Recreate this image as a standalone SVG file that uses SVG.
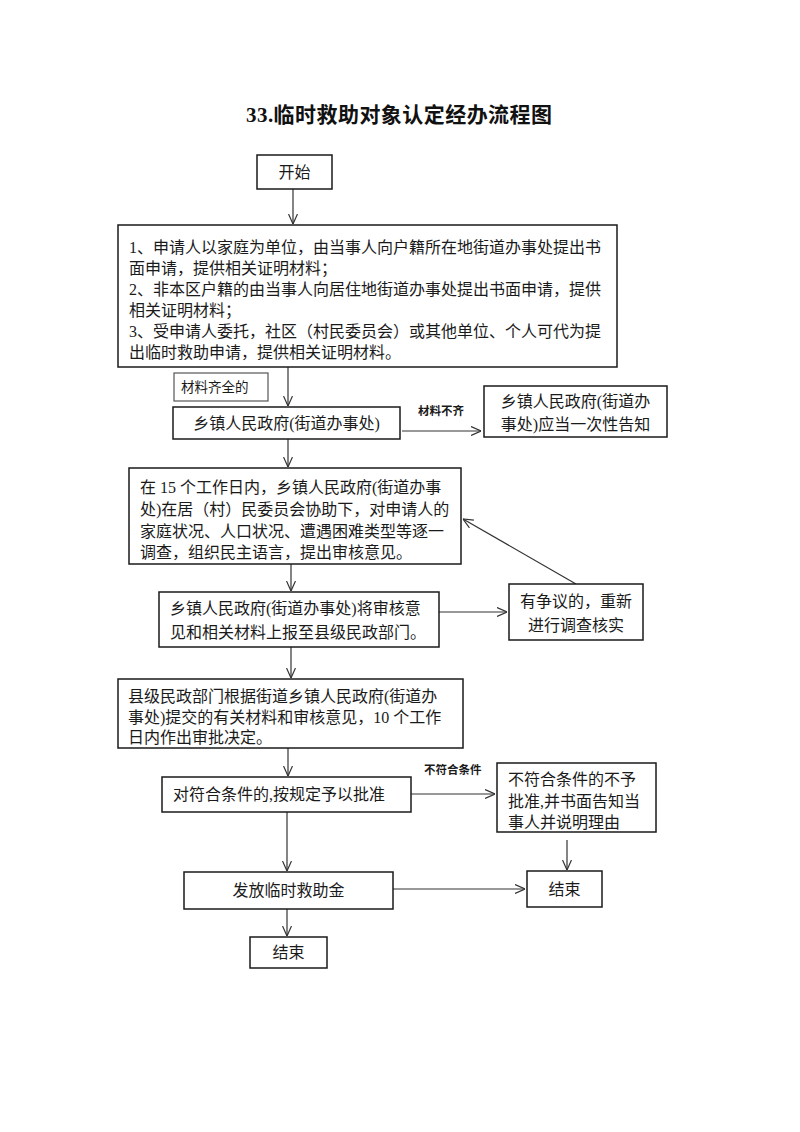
<svg xmlns="http://www.w3.org/2000/svg" width="800" height="1132" viewBox="0 0 800 1132">
<style>
.bg{fill:#ffffff}
.box{fill:#ffffff;stroke:#1a1a1a;stroke-width:1.5}
.lbl{fill:#ffffff;stroke:#555;stroke-width:1.2}
.t{font-family:"Liberation Serif","Noto Sans CJK SC",serif;font-size:16px;fill:#1a1a1a}
.c{text-anchor:middle}
.s{font-family:"Liberation Sans","Noto Sans CJK SC",sans-serif;font-size:11.5px;font-weight:bold;fill:#1a1a1a}
.title{font-family:"Liberation Serif","Noto Sans CJK SC",serif;font-size:21px;font-weight:bold;fill:#111;text-anchor:middle}
.e{stroke:#333;stroke-width:1.2;fill:none;marker-end:url(#ah)}
</style>
<defs>
<marker id="ah" viewBox="0 0 10 10" refX="10" refY="5" markerUnits="userSpaceOnUse" markerWidth="10" markerHeight="10" orient="auto">
<path d="M0,0.5 L10,5 L0,9.5" fill="none" stroke="#333" stroke-width="1.2"/>
</marker>
</defs>
<rect class="bg" x="0" y="0" width="800" height="1132"/>
<text class="title" x="399" y="122" textLength="306" lengthAdjust="spacing">33.临时救助对象认定经办流程图</text>

<g id="connectors">
<line class="e" x1="293" y1="189" x2="293" y2="224"/>
<line class="e" x1="288" y1="367" x2="288" y2="406"/>
<line class="e" x1="402" y1="431" x2="481" y2="431"/>
<line class="e" x1="288" y1="439" x2="288" y2="467"/>
<line class="e" x1="291" y1="564" x2="291" y2="591"/>
<line class="e" x1="439" y1="612" x2="507" y2="612"/>
<line class="e" x1="576" y1="584" x2="463" y2="519"/>
<line class="e" x1="291" y1="647" x2="291" y2="678"/>
<line class="e" x1="288" y1="748" x2="288" y2="776"/>
<line class="e" x1="411" y1="794" x2="495" y2="794"/>
<line class="e" x1="287" y1="812" x2="287" y2="871"/>
<line class="e" x1="567" y1="840" x2="567" y2="870"/>
<line class="e" x1="393" y1="889" x2="525" y2="889"/>
<line class="e" x1="287" y1="909" x2="287" y2="936"/>
<text class="s" x="418" y="415">材料不齐</text>
<text class="s" x="424" y="774">不符合条件</text>
</g>

<g id="start">
<rect class="box" x="257" y="155" width="75" height="34"/>
<text class="t c" x="294.5" y="178">开始</text>
</g>

<g id="apply">
<rect class="box" x="118" y="225" width="499" height="142"/>
<text class="t" x="129" y="253">1、申请人以家庭为单位，由当事人向户籍所在地街道办事处提出书</text>
<text class="t" x="129" y="274">面申请，提供相关证明材料；</text>
<text class="t" x="129" y="295">2、非本区户籍的由当事人向居住地街道办事处提出书面申请，提供</text>
<text class="t" x="129" y="316">相关证明材料；</text>
<text class="t" x="129" y="337">3、受申请人委托，社区（村民委员会）或其他单位、个人可代为提</text>
<text class="t" x="129" y="358">出临时救助申请，提供相关证明材料。</text>
</g>

<g id="label-complete">
<rect class="lbl" x="174" y="373" width="94" height="28"/>
<text class="t" x="181" y="392" style="font-size:13.5px">材料齐全的</text>
</g>

<g id="township">
<rect class="box" x="173" y="407" width="227" height="32"/>
<text class="t c" x="286.5" y="429">乡镇人民政府(街道办事处)</text>
</g>

<g id="notify">
<rect class="box" x="484" y="386" width="183" height="51"/>
<text class="t c" x="575.5" y="407">乡镇人民政府(街道办</text>
<text class="t c" x="575.5" y="430">事处)应当一次性告知</text>
</g>

<g id="investigate">
<rect class="box" x="129" y="468" width="332" height="96"/>
<text class="t" x="140" y="493">在 15 个工作日内，乡镇人民政府(街道办事</text>
<text class="t" x="140" y="515">处)在居（村）民委员会协助下，对申请人的</text>
<text class="t" x="140" y="537">家庭状况、人口状况、遭遇困难类型等逐一</text>
<text class="t" x="140" y="558">调查，组织民主语言，提出审核意见。</text>
</g>

<g id="report">
<rect class="box" x="159" y="592" width="280" height="55"/>
<text class="t" x="170" y="614">乡镇人民政府(街道办事处)将审核意</text>
<text class="t" x="170" y="638">见和相关材料上报至县级民政部门。</text>
</g>

<g id="dispute">
<rect class="box" x="509" y="584" width="134" height="56"/>
<text class="t c" x="576" y="607">有争议的，重新</text>
<text class="t c" x="576" y="631">进行调查核实</text>
</g>

<g id="county">
<rect class="box" x="118" y="679" width="345" height="69"/>
<text class="t" x="128" y="702">县级民政部门根据街道乡镇人民政府(街道办</text>
<text class="t" x="128" y="723">事处)提交的有关材料和审核意见，10 个工作</text>
<text class="t" x="128" y="743">日内作出审批决定。</text>
</g>

<g id="approve">
<rect class="box" x="162" y="777" width="249" height="35"/>
<text class="t" x="173" y="800">对符合条件的,按规定予以批准</text>
</g>

<g id="reject">
<rect class="box" x="497" y="763" width="159" height="69"/>
<text class="t" x="508" y="785">不符合条件的不予</text>
<text class="t" x="508" y="807">批准,并书面告知当</text>
<text class="t" x="508" y="828">事人并说明理由</text>
</g>

<g id="pay">
<rect class="box" x="184" y="872" width="209" height="37"/>
<text class="t c" x="288.5" y="896">发放临时救助金</text>
</g>

<g id="end-right">
<rect class="box" x="527" y="871" width="75" height="36"/>
<text class="t c" x="564.5" y="895">结束</text>
</g>

<g id="end-left">
<rect class="box" x="250" y="937" width="77" height="31"/>
<text class="t c" x="288.5" y="958">结束</text>
</g>
</svg>
